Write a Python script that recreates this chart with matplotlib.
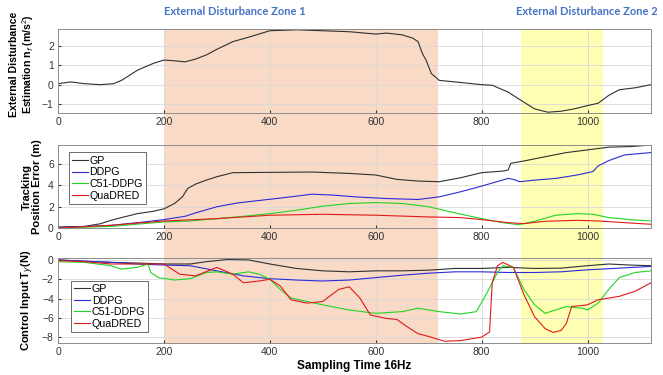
import matplotlib.pyplot as plt
import numpy as np

plt.rcParams['font.family'] = ['Liberation Sans', 'DejaVu Sans']
plt.rcParams['mathtext.fontset'] = 'custom'
plt.rcParams['mathtext.rm'] = 'Liberation Sans'
plt.rcParams['mathtext.bf'] = 'Liberation Sans:bold'

# disturbance estimate (top)
t_dist = [0, 24, 50, 80, 105, 120, 150, 180, 200, 220, 240, 260, 280, 300, 330, 360, 400, 450,
          500, 550, 600, 620, 650, 670, 680, 688, 695, 705, 720, 750, 800, 820, 850, 880, 900,
          925, 950, 975, 1000, 1020, 1040, 1060, 1090, 1120]
dist = [0.05, 0.14, 0.05, 0.0, 0.05, 0.22, 0.74, 1.09, 1.26, 1.22, 1.17, 1.31, 1.52, 1.81, 2.2,
        2.43, 2.76, 2.81, 2.76, 2.71, 2.59, 2.64, 2.55, 2.38, 2.2, 1.6, 1.26, 0.57, 0.22, 0.14,
        0.0, -0.03, -0.38, -0.9, -1.24, -1.41, -1.36, -1.24, -1.07, -0.95, -0.55, -0.26, -0.16, 0.0]

# tracking position error (middle)
t_gp_err = [0, 50, 80, 100, 120, 150, 180, 200, 220, 235, 245, 260, 280, 300, 330, 400, 480, 550,
            600, 640, 680, 720, 760, 800, 840, 850, 855, 880, 920, 960, 1000, 1040, 1080, 1120]
gp_err = [0.1, 0.15, 0.4, 0.72, 0.98, 1.35, 1.57, 1.8, 2.3, 2.93, 3.72, 4.13, 4.5, 4.82, 5.2, 5.23,
          5.26, 5.13, 4.98, 4.57, 4.41, 4.35, 4.72, 5.2, 5.35, 5.45, 6.08, 6.3, 6.7, 7.09, 7.34,
          7.6, 7.65, 7.8]
t_ddpg_err = [0, 100, 150, 200, 240, 260, 300, 340, 400, 440, 480, 520, 560, 620, 680, 720, 760,
              800, 850, 860, 872, 900, 940, 980, 1010, 1020, 1040, 1070, 1120]
ddpg_err = [0.03, 0.25, 0.5, 0.79, 1.1, 1.42, 2.0, 2.36, 2.7, 2.93, 3.18, 3.09, 2.93, 2.77, 2.68,
            2.93, 3.4, 3.94, 4.66, 4.57, 4.35, 4.5, 4.66, 4.98, 5.3, 5.83, 6.33, 6.87, 7.09]
t_c51_err = [0, 100, 200, 250, 300, 350, 400, 450, 500, 550, 600, 650, 700, 750, 800, 840, 870,
             900, 940, 980, 1010, 1040, 1080, 1120]
c51_err = [0.0, 0.15, 0.57, 0.66, 0.88, 1.1, 1.35, 1.67, 2.05, 2.3, 2.39, 2.3, 2.0, 1.42, 0.88,
           0.5, 0.31, 0.63, 1.2, 1.35, 1.29, 0.98, 0.79, 0.66]
t_qua_err = [0, 100, 200, 300, 400, 500, 600, 700, 760, 800, 850, 880, 920, 980, 1020, 1080, 1120]
qua_err = [0.0, 0.25, 0.66, 0.88, 1.2, 1.29, 1.2, 1.04, 0.98, 0.79, 0.5, 0.41, 0.63, 0.72, 0.66,
           0.47, 0.35]

# control input (bottom)
t_gp_u = [0, 50, 100, 150, 200, 250, 280, 320, 360, 400, 450, 500, 550, 600, 650, 700, 750, 800,
          850, 900, 950, 1000, 1040, 1080, 1120]
gp_u = [0.0, -0.14, -0.25, -0.32, -0.42, -0.42, -0.18, 0.04, 0.0, -0.42, -0.88, -1.13, -1.23,
        -1.13, -1.13, -1.06, -0.88, -0.88, -0.77, -0.88, -0.85, -0.6, -0.42, -0.53, -0.6]
t_ddpg_u = [0, 100, 150, 200, 250, 300, 350, 400, 450, 500, 550, 600, 650, 700, 750, 800, 850,
            900, 950, 1000, 1050, 1120]
ddpg_u = [0.0, -0.25, -0.42, -0.53, -0.6, -1.13, -1.65, -1.94, -2.08, -2.18, -2.08, -1.83, -1.58,
          -1.37, -1.23, -1.23, -1.3, -1.3, -1.23, -1.02, -0.88, -0.67]
t_c51_u = [0, 50, 100, 120, 150, 170, 175, 190, 220, 250, 280, 300, 330, 360, 380, 400, 420, 440,
           470, 500, 550, 600, 650, 680, 720, 760, 790, 810, 830, 840, 860, 880, 900, 920, 960,
           990, 1000, 1020, 1040, 1060, 1090, 1120]
c51_u = [-0.18, -0.25, -0.6, -0.95, -0.77, -0.42, -1.3, -1.83, -2.08, -1.94, -1.3, -1.23, -1.48,
         -1.23, -1.48, -2.0, -3.06, -3.94, -4.3, -4.65, -5.18, -5.53, -5.35, -5.0, -5.35, -5.6,
         -5.35, -3.42, -1.3, -0.6, -0.77, -3.06, -4.65, -5.53, -4.82, -5.0, -5.18, -4.47, -3.06,
         -1.83, -1.3, -1.13]
t_qua_u = [0, 50, 100, 150, 200, 230, 260, 300, 330, 350, 380, 400, 420, 440, 470, 500, 530, 550,
           570, 590, 620, 640, 660, 680, 700, 730, 760, 800, 815, 820, 830, 840, 860, 880, 900,
           920, 935, 950, 960, 970, 1000, 1020, 1060, 1090, 1120]
qua_u = [-0.07, -0.18, -0.42, -0.42, -0.42, -1.48, -1.65, -0.77, -1.48, -2.36, -2.18, -2.0, -2.71,
         -4.12, -4.47, -4.3, -3.06, -2.78, -3.94, -5.7, -6.06, -6.16, -6.94, -7.64, -7.92, -8.42,
         -8.35, -7.99, -7.46, -2.36, -0.6, -0.25, -0.77, -3.6, -5.88, -7.11, -7.5, -7.3, -6.58,
         -4.82, -4.65, -4.12, -3.77, -3.24, -2.36]

labels = ['GP', 'DDPG', 'C51-DDPG', 'QuaDRED']
colors = ['#303030', '#2b2bd6', '#22d422', '#e01a1a']
zone1 = (200, 718)
zone2 = (875, 1030)

fig = plt.figure(figsize=(6.63, 3.75), dpi=100)
left, width = 0.0875, 0.8945
pos = [(0.6987, 0.224), (0.392, 0.2213), (0.0853, 0.2267)]

# shading behind all three panels
bg = fig.add_axes([left, pos[2][0], width, pos[0][0] + pos[0][1] - pos[2][0]], zorder=0)
bg.set_xlim(0, 1120)
bg.set_ylim(0, 1)
bg.axvspan(*zone1, color='#f8dac6', lw=0)
bg.axvspan(*zone2, color='#ffffb4', lw=0)
bg.axis('off')
bg.text(zone1[0], 1.055, 'External Disturbance Zone 1', color='#4472c4', fontsize=8,
        fontweight='bold', family='Lato', transform=bg.get_xaxis_transform(), va='center',
        clip_on=False)
bg.text(865, 1.055, 'External Disturbance Zone 2', color='#4472c4', fontsize=8,
        fontweight='bold', family='Lato', transform=bg.get_xaxis_transform(), va='center',
        clip_on=False)

axes = []
for b, h in pos:
    ax = fig.add_axes([left, b, width, h], zorder=1)
    ax.set_facecolor('none')
    ax.set_xlim(0, 1120)
    ax.set_xticks([0, 200, 400, 600, 800, 1000])
    ax.grid(True, color='#d9d9d9', lw=0.6)
    ax.tick_params(direction='in', length=2.5, labelsize=7.5, colors='#333333', pad=3)
    for s in ax.spines.values():
        s.set_color('#8c8c8c')
        s.set_linewidth(0.7)
    axes.append(ax)

ax1, ax2, ax3 = axes
lw = 0.8

ax1.plot(t_dist, dist, color=colors[0], lw=lw)
ax1.set_ylim(-1.45, 2.85)
ax1.set_yticks([-1, 0, 1, 2])
ax1.set_ylabel('External Disturbance\nEstimation n$_f$ (m/s$^2$)', fontsize=7.6, fontweight='bold',
               linespacing=1.1)

ax2.plot(t_gp_err, gp_err, color=colors[0], lw=lw, label=labels[0])
ax2.plot(t_ddpg_err, ddpg_err, color=colors[1], lw=lw, label=labels[1])
ax2.plot(t_c51_err, c51_err, color=colors[2], lw=lw, label=labels[2])
ax2.plot(t_qua_err, qua_err, color=colors[3], lw=lw, label=labels[3])
ax2.set_ylim(0, 7.8)
ax2.set_yticks([0, 2, 4, 6])
ax2.set_ylabel('Tracking\nPosition Error (m)', fontsize=8, fontweight='bold', linespacing=1.1)

ax3.plot(t_gp_u, gp_u, color=colors[0], lw=lw, label=labels[0])
ax3.plot(t_ddpg_u, ddpg_u, color=colors[1], lw=lw, label=labels[1])
ax3.plot(t_c51_u, c51_u, color=colors[2], lw=lw, label=labels[2])
ax3.plot(t_qua_u, qua_u, color=colors[3], lw=lw, label=labels[3])
ax3.set_ylim(-8.6, 0.2)
ax3.set_yticks([-8, -6, -4, -2, 0])
ax3.set_ylabel('Control Input T$_y$(N)', fontsize=8, fontweight='bold')
ax3.set_xlabel('Sampling Time 16Hz', fontsize=8.5, fontweight='bold', labelpad=2)

leg_kw = dict(fontsize=7.7, handlelength=1.5, handletextpad=0.15, labelspacing=0.15,
              borderpad=0.3, borderaxespad=0, fancybox=False, framealpha=1,
              edgecolor='#555555')
l2 = ax2.legend(loc='upper left', bbox_to_anchor=(0.018, 0.91), **leg_kw)
l3 = ax3.legend(loc='lower left', bbox_to_anchor=(0.022, 0.13), **leg_kw)
for l in (l2, l3):
    l.get_frame().set_linewidth(0.6)

fig.align_ylabels(axes)
ax1.yaxis.label.set_y(0.58)
fig.savefig('out.png', dpi=100)
